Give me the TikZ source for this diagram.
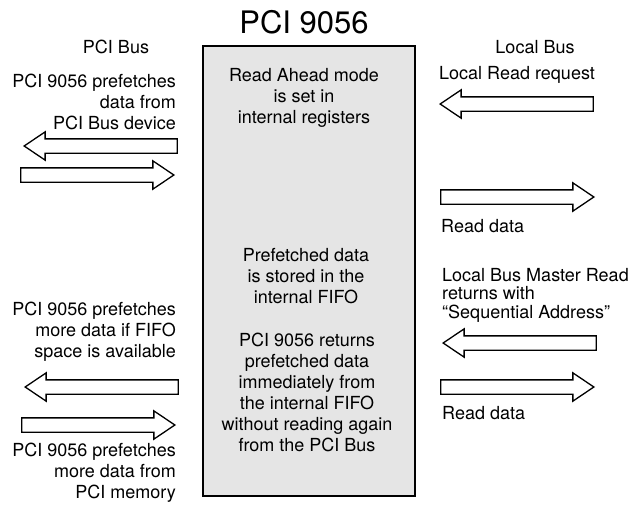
\documentclass[tikz,border=0pt]{standalone}
\usepackage{fontspec}
\setmainfont{TeX Gyre Heros}
\usetikzlibrary{shapes.arrows}
\definecolor{boxgray}{RGB}{229,229,229}
\begin{document}
\begin{tikzpicture}[x=1pt,y=-1pt,
  txt/.style={font=\fontsize{18}{21}\selectfont, inner sep=0pt},
  txtR/.style={txt, align=right, anchor=east},
  txtL/.style={txt, align=left, anchor=west},
  txtC/.style={txt, align=center},
  blockarrow/.style={single arrow, draw=black, fill=white, line width=1.3pt,
    minimum height=153pt, minimum width=27pt, inner xsep=0pt, inner ysep=6.5pt,
    single arrow head extend=7pt, single arrow tip angle=68, anchor=tip},
  toleft/.style={blockarrow, shape border rotate=180},
  toright/.style={blockarrow}]
\useasboundingbox (0,0) rectangle (642,506);

% central chip
\node[draw=black, line width=2.6pt, fill=boxgray, minimum width=212pt, minimum height=450pt, inner sep=0pt] (chip) at (309,271) {};
\node[font=\fontsize{31}{34}\selectfont, inner sep=0pt] (title) at (304,22) {PCI 9056};

% headers
\node[txtC] (pcibus) at (116,47) {PCI Bus};
\node[txtC] (localbus) at (535,47) {Local Bus};

% chip texts
\node[txtC] (c1) at (304,98) {Read Ahead mode\\is set in\\internal registers};
\node[txtC] (c2) at (306,276) {Prefetched data\\is stored in the\\internal FIFO};
\node[txtC] (c3) at (307,392) {PCI 9056 returns\\prefetched data\\immediately from\\the internal FIFO\\without reading again\\from the PCI Bus};

% left side texts
\node[txtR] (l1) at (176,102) {PCI 9056 prefetches\\data from\\PCI Bus device};
\node[txtR] (l2) at (176,332) {PCI 9056 prefetches\\more data if FIFO\\space is available};
\node[txtR] (l3) at (176,473) {PCI 9056 prefetches\\more data from\\PCI memory};

% right side texts
\node[txtL] (r1) at (439,75) {Local Read request};
\node[txtL] (r2) at (441,226) {Read data};
\node[txtL, font=\fontsize{18}{18.5}\selectfont] (r3) at (442,295) {Local Bus Master Read\\returns with\\“Sequential Address”};
\node[txtL] (r4) at (442,413) {Read data};

% block arrows, left side (placed by their tips)
\node[toleft] (la1) at (23,146) {};
\node[toright] (la2) at (175,175) {};
\node[toleft] (la3) at (24,387) {};
\node[toright] (la4) at (176,425) {};

% block arrows, right side
\node[toleft] (ra1) at (439,104) {};
\node[toright] (ra2) at (595,197) {};
\node[toleft] (ra3) at (442,343) {};
\node[toright] (ra4) at (595,387) {};
\end{tikzpicture}
\end{document}
